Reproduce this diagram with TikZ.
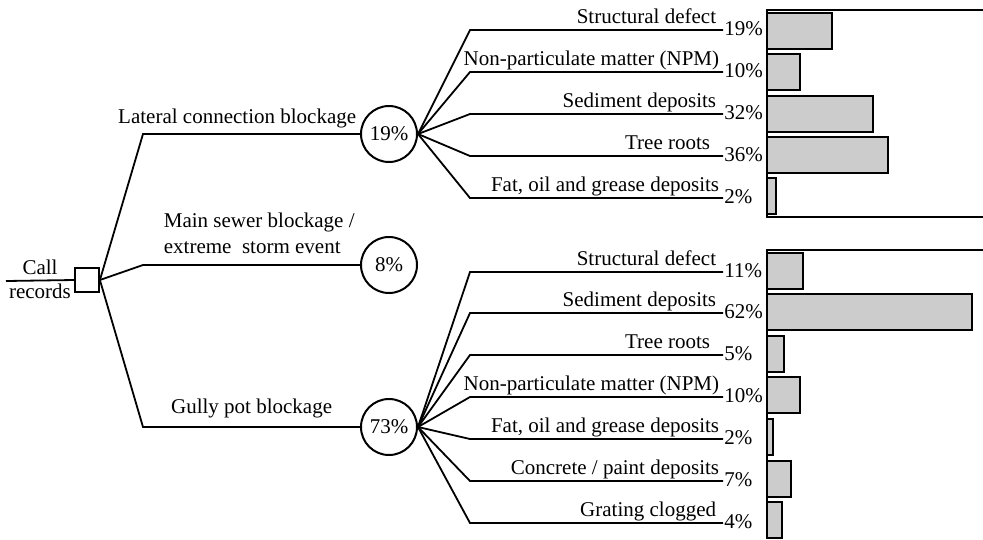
\documentclass[tikz,border=0pt]{standalone}
\usepackage{fontspec}
\setmainfont{Liberation Serif}
\usetikzlibrary{positioning}
\definecolor{barfill}{gray}{0.8}

\begin{document}
\begin{tikzpicture}[x=1pt,y=-1pt,line width=1.8pt,
	every node/.style={font=\fontsize{21}{24}\selectfont},
	event/.style={circle,draw,line width=2pt,minimum size=56pt,inner sep=0pt},
	cause/.style={anchor=base east,inner sep=0pt},
	share/.style={anchor=west,inner sep=0.5pt},
	bar/.style={draw,fill=barfill,line width=1.8pt}]
	\useasboundingbox (0,0) rectangle (983,539);
	% root
	\node[draw,minimum size=24pt,inner sep=0pt] (root) at (87,280) {};
	\coordinate (start) at (6,281);
	\draw (start) -- (root.west);
	\node[anchor=base,inner sep=0pt] (call) at (40,274) {Call};
	\node[anchor=base,inner sep=0pt] (rec) at (40,298) {records};
	% first level
	\coordinate (k1) at (143,134); \coordinate (k2) at (143,265); \coordinate (k3) at (143,427);
	\node[event] (lat) at (389,134) {19\%};
	\node[event] (main) at (389,265) {8\%};
	\node[event] (gully) at (389,427) {73\%};
	\draw (root.east) -- (k1) -- (lat);
	\draw (root.east) -- (k2) -- (main);
	\draw (root.east) -- (k3) -- (gully);
	\node[cause] (latlab) at (357,123) {Lateral connection blockage};
	\node[anchor=base west,inner sep=0pt] (mainlab) at (163,227) {Main sewer blockage /};
	\node[anchor=base west,inner sep=0pt] (mainlab2) at (163,253) {extreme~~storm event};
	\node[cause] (gullylab) at (333,413) {Gully pot blockage};
	% lateral connection causes
	\coordinate (a1) at (470,30); \coordinate (a1e) at (723,30); %structural
	\coordinate (a2) at (470,72); \coordinate (a2e) at (723,72);
	\coordinate (a3) at (470,114); \coordinate (a3e) at (723,114);
	\coordinate (a4) at (470,156); \coordinate (a4e) at (723,156);
	\coordinate (a5) at (470,198); \coordinate (a5e) at (723,198);
	\draw (lat.east) -- (a1) -- (a1e);
	\draw (lat.east) -- (a2) -- (a2e);
	\draw (lat.east) -- (a3) -- (a3e);
	\draw (lat.east) -- (a4) -- (a4e);
	\draw (lat.east) -- (a5) -- (a5e);
	\node[cause] (a1l) at (717,23) {Structural defect};
	\node[cause] (a2l) at (720,65) {Non-particulate matter (NPM)};
	\node[cause] (a3l) at (717,107) {Sediment deposits};
	\node[cause] (a4l) at (711,149) {Tree roots};
	\node[cause] (a5l) at (720,191) {Fat, oil and grease deposits};
	\node[share] (a1p) at ([yshift=1pt]a1e) {19\%};
	\node[share] (a2p) at ([yshift=1pt]a2e) {10\%};
	\node[share] (a3p) at ([yshift=1pt]a3e) {32\%};
	\node[share] (a4p) at ([yshift=1pt]a4e) {36\%};
	\node[share] (a5p) at ([yshift=1pt]a5e) {2\%};
	% gully pot causes
	\coordinate (b1) at (470,272); \coordinate (b1e) at (723,272);
	\coordinate (b2) at (470,313); \coordinate (b2e) at (723,313);
	\coordinate (b3) at (470,355); \coordinate (b3e) at (723,355);
	\coordinate (b4) at (470,397); \coordinate (b4e) at (723,397);
	\coordinate (b5) at (470,439); \coordinate (b5e) at (723,439);
	\coordinate (b6) at (470,481); \coordinate (b6e) at (723,481);
	\coordinate (b7) at (470,523); \coordinate (b7e) at (723,523);
	\draw (gully.east) -- (b1) -- (b1e);
	\draw (gully.east) -- (b2) -- (b2e);
	\draw (gully.east) -- (b3) -- (b3e);
	\draw (gully.east) -- (b4) -- (b4e);
	\draw (gully.east) -- (b5) -- (b5e);
	\draw (gully.east) -- (b6) -- (b6e);
	\draw (gully.east) -- (b7) -- (b7e);
	\node[cause] (b1l) at (717,265) {Structural defect};
	\node[cause] (b2l) at (717,306) {Sediment deposits};
	\node[cause] (b3l) at (711,348) {Tree roots};
	\node[cause] (b4l) at (720,390) {Non-particulate matter (NPM)};
	\node[cause] (b5l) at (720,432) {Fat, oil and grease deposits};
	\node[cause] (b6l) at (720,474) {Concrete / paint deposits};
	\node[cause] (b7l) at (717,516) {Grating clogged};
	\node[share] (b1p) at ([yshift=1pt]b1e) {11\%};
	\node[share] (b2p) at ([yshift=1pt]b2e) {62\%};
	\node[share] (b3p) at ([yshift=1pt]b3e) {5\%};
	\node[share] (b4p) at ([yshift=1pt]b4e) {10\%};
	\node[share] (b5p) at ([yshift=1pt]b5e) {2\%};
	\node[share] (b6p) at ([yshift=1pt]b6e) {7\%};
	\node[share] (b7p) at ([yshift=1pt]b7e) {4\%};
	% bar panels
	\draw[line width=1.5pt] (983,10) -- (767,10) -- (767,217) -- (983,217);
	\draw[line width=1.5pt] (983,250) -- (767,250) -- (767,539);
	\draw[bar] (767,13) rectangle ++(65,36);
	\draw[bar] (767,54) rectangle ++(33,36);
	\draw[bar] (767,96) rectangle ++(106,36);
	\draw[bar] (767,137) rectangle ++(121,36);
	\draw[bar] (767,178) rectangle ++(9,36);
	\draw[bar] (767,253) rectangle ++(36,36);
	\draw[bar] (767,294) rectangle ++(205,36);
	\draw[bar] (767,336) rectangle ++(17,36);
	\draw[bar] (767,377) rectangle ++(33,36);
	\draw[bar] (767,419) rectangle ++(6,36);
	\draw[bar] (767,461) rectangle ++(24,36);
	\draw[bar] (767,502) rectangle ++(15,36);
\end{tikzpicture}
\end{document}
